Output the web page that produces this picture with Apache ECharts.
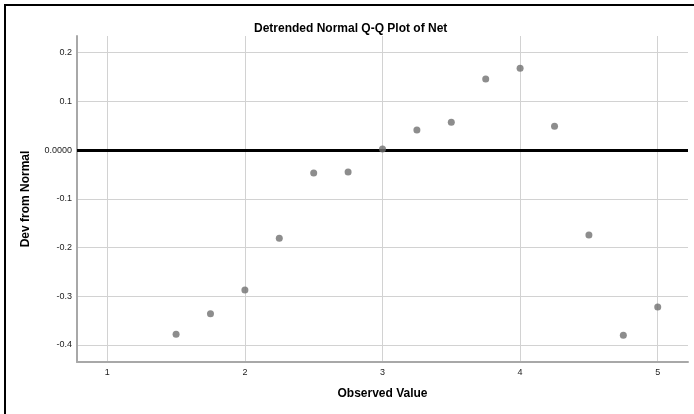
<!DOCTYPE html>
<html><head><meta charset="utf-8">
<script src="https://cdn.jsdelivr.net/npm/echarts@6/dist/echarts.min.js"></script>
<style>html,body{margin:0;padding:0;background:#fff}#c{width:694px;height:414px}</style>
</head><body><div id="c"></div>
<script>
const observed = [1.5, 1.75, 2, 2.25, 2.5, 2.75, 3, 3.25, 3.5, 3.75, 4, 4.25, 4.5, 4.75, 5];
const devFromNormal = [-0.378, -0.336, -0.2875, -0.181, -0.047, -0.045, 0.002, 0.041, 0.057, 0.146, 0.168, 0.049, -0.1745, -0.380, -0.322];
const xRange = [0.78, 5.22];
const yRange = [-0.435, 0.234];

const points = observed.map((x, i) => [x, devFromNormal[i]]);
const font = 'Liberation Sans, Arial, sans-serif';
const chart = echarts.init(document.getElementById('c'));
chart.setOption({
  animation: false,
  backgroundColor: '#fff',
  title: {
    text: 'Detrended Normal Q-Q Plot of Net',
    left: 249, top: 18,
    textStyle: { fontFamily: font, fontSize: 12, fontWeight: 'bold', color: '#000' }
  },
  graphic: [{
    type: 'rect', silent: true, z: 100,
    shape: { x: 5, y: 5, width: 900, height: 900 },
    style: { fill: 'none', stroke: '#000', lineWidth: 2 }
  }],
  grid: { left: 77, right: 6, top: 36, bottom: 52 },
  xAxis: {
    type: 'value', min: xRange[0], max: xRange[1],
    minInterval: 1, maxInterval: 1,
    name: 'Observed Value', nameLocation: 'middle', nameGap: 26,
    nameTextStyle: { fontFamily: font, fontSize: 12, fontWeight: 'bold', color: '#000' },
    axisLine: { show: true, onZero: false, lineStyle: { color: '#a8a8a8', width: 2 } },
    axisTick: { show: false },
    axisLabel: { fontFamily: font, fontSize: 9, color: '#222', margin: 6, showMinLabel: false, showMaxLabel: false },
    splitLine: { show: true, showMinLine: false, showMaxLine: false, lineStyle: { color: '#d2d2d2', width: 1 } }
  },
  yAxis: {
    type: 'value', min: yRange[0], max: yRange[1],
    minInterval: 0.1, maxInterval: 0.1,
    name: 'Dev from Normal', nameLocation: 'middle', nameGap: 45,
    nameTextStyle: { fontFamily: font, fontSize: 12, fontWeight: 'bold', color: '#000' },
    axisLine: { show: true, onZero: false, lineStyle: { color: '#a8a8a8', width: 2 } },
    axisTick: { show: false },
    axisLabel: {
      fontFamily: font, fontSize: 9, color: '#222', margin: 5, showMinLabel: false, showMaxLabel: false,
      formatter: v => Math.abs(v) < 1e-9 ? '0.0000' : v.toFixed(1)
    },
    splitLine: { show: true, showMinLine: false, showMaxLine: false, lineStyle: { color: '#d2d2d2', width: 1 } }
  },
  series: [{
    type: 'scatter',
    data: points,
    symbolSize: 7,
    itemStyle: { color: '#707070' },
    z: 3,
    markLine: {
      silent: true, symbol: 'none', label: { show: false }, z: 2,
      lineStyle: { color: '#000', width: 3, type: 'solid' },
      data: [{ yAxis: 0 }]
    }
  }]
});
</script></body></html>
